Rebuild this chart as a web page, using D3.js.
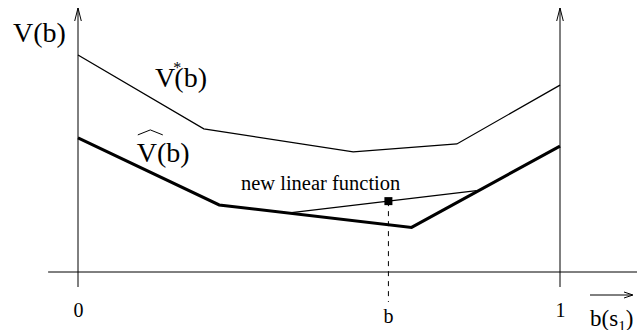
<!DOCTYPE html>
<html>
<head>
<meta charset="utf-8">
<script src="https://cdn.jsdelivr.net/npm/d3@7"></script>
<style>
  html, body { margin: 0; padding: 0; background: #fff; }
  svg { display: block; }
  text { font-family: "Liberation Serif", "Times New Roman", serif; fill: #000; }
</style>
</head>
<body>
<div id="chart"></div>
<script>
/* Chart values */
const WIDTH = 637;
const HEIGHT = 330;

// V*(b): upper thin piecewise linear curve
const vStarX = [0, 0.261, 0.571, 0.786, 1];
const vStarY = [0.822, 0.542, 0.455, 0.485, 0.708];

// V^(b): thick lower bound
const vHatX = [0, 0.293, 0.692, 1];
const vHatY = [0.508, 0.254, 0.169, 0.477];

// new linear function
const newLinX = [0.443, 0.827];
const newLinY = [0.225, 0.308];

const bValue = 0.644;
const tickValues = [0, 1];
const tickLabels = ["0", "1"];

const x = d3.scaleLinear().domain([0, 1]).range([78, 560]);
const y = d3.scaleLinear().domain([0, 1]).range([272, 8]);

const svg = d3.select("#chart").append("svg")
    .attr("width", WIDTH)
    .attr("height", HEIGHT);

// open arrow heads
function arrowUp(px, py) {
    svg.append("path")
        .attr("d", `M${px - 3.3},${py + 13} L${px},${py} L${px + 3.3},${py + 13}`)
        .attr("fill", "none").attr("stroke", "#000").attr("stroke-width", 1);
}

// horizontal axis line
svg.append("line")
    .attr("x1", x(-0.062)).attr("x2", WIDTH)
    .attr("y1", y(0)).attr("y2", y(0))
    .attr("stroke", "#000").attr("stroke-width", 1);

// the two vertical axes at b=0 and b=1
tickValues.forEach(t => {
    svg.append("line")
        .attr("x1", x(t)).attr("x2", x(t))
        .attr("y1", y(0) + 15).attr("y2", y(1))
        .attr("stroke", "#000").attr("stroke-width", 1);
    arrowUp(x(t), y(1));
});

// tick labels through an axis
const xAxis = d3.axisBottom(x)
    .tickValues(tickValues)
    .tickFormat((d, i) => tickLabels[i])
    .tickSize(0)
    .tickPadding(31);

const gx = svg.append("g")
    .attr("transform", `translate(0,${y(0)})`)
    .call(xAxis);
gx.select(".domain").remove();
gx.selectAll("text")
    .attr("font-family", "Liberation Serif")
    .attr("font-size", 20)
    .attr("fill", "#000");

const line = d3.line().x(d => x(d[0])).y(d => y(d[1]));

// V*(b)
svg.append("path")
    .datum(d3.zip(vStarX, vStarY))
    .attr("d", line)
    .attr("fill", "none").attr("stroke", "#000").attr("stroke-width", 1.3)
    .attr("stroke-linejoin", "miter");

// V^(b)
svg.append("path")
    .datum(d3.zip(vHatX, vHatY))
    .attr("d", line)
    .attr("fill", "none").attr("stroke", "#000").attr("stroke-width", 3)
    .attr("stroke-linejoin", "miter");

// new linear function
svg.append("path")
    .datum(d3.zip(newLinX, newLinY))
    .attr("d", line)
    .attr("fill", "none").attr("stroke", "#000").attr("stroke-width", 1.3);

const linAt = d3.scaleLinear().domain(newLinX).range(newLinY);
const bY = linAt(bValue);

// dashed drop line at b
svg.append("line")
    .attr("x1", x(bValue)).attr("x2", x(bValue))
    .attr("y1", y(bY)).attr("y2", y(0) + 30)
    .attr("stroke", "#000").attr("stroke-width", 1)
    .attr("stroke-dasharray", "5,5");

// square marker
svg.append("rect")
    .attr("x", x(bValue) - 4).attr("y", y(bY) - 4)
    .attr("width", 8).attr("height", 8)
    .attr("fill", "#000");

// labels
svg.append("text")
    .attr("x", x(bValue)).attr("y", y(0) + 51)
    .attr("text-anchor", "middle")
    .attr("font-size", 20)
    .text("b");

svg.append("text")
    .attr("x", x(0.338)).attr("y", y(0.309))
    .attr("font-size", 20.5)
    .text("new linear function");

// V(b) axis title
svg.append("text")
    .attr("x", 13).attr("y", 42)
    .attr("font-size", 28)
    .text("V(b)");

// V*(b)
const vs = svg.append("text")
    .attr("x", x(0.160)).attr("y", y(0.701))
    .attr("font-size", 28);
vs.append("tspan").text("V");
vs.append("tspan").attr("font-size", 16).attr("dx", -2).attr("dy", -14).text("*");
vs.append("tspan").attr("dx", -7).attr("dy", 14).text("(b)");

// V^(b)
svg.append("text")
    .attr("x", x(0.122)).attr("y", y(0.417))
    .attr("font-size", 28)
    .text("V(b)");
const hx = x(0.122) + 1;
const hy = y(0.417) - 32;
svg.append("path")
    .attr("d", `M${hx},${hy + 5} L${hx + 12.5},${hy} L${hx + 25},${hy + 5}`)
    .attr("fill", "none").attr("stroke", "#000").attr("stroke-width", 1);

// b(s1) with arrow over it
const bs = svg.append("text")
    .attr("x", 590).attr("y", 326)
    .attr("font-size", 23);
bs.append("tspan").text("b(s");
bs.append("tspan").attr("font-size", 15).attr("dy", 5).text("1");
bs.append("tspan").attr("dy", -5).text(")");

svg.append("line")
    .attr("x1", 590).attr("x2", 632)
    .attr("y1", 295).attr("y2", 295)
    .attr("stroke", "#000").attr("stroke-width", 1);
svg.append("path")
    .attr("d", "M624,292 L633,295 L624,298")
    .attr("fill", "none").attr("stroke", "#000").attr("stroke-width", 1);
</script>
</body>
</html>
